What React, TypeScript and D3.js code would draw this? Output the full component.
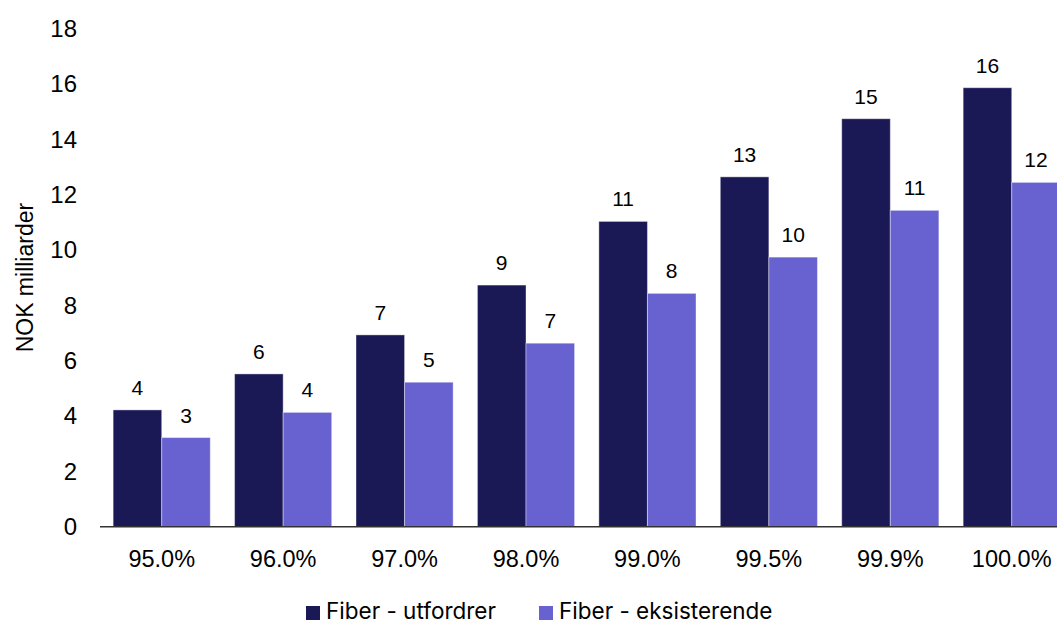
import React from "react";
import * as d3 from "d3";

const categories = ["95.0%", "96.0%", "97.0%", "98.0%", "99.0%", "99.5%", "99.9%", "100.0%"];
const seriesNames = ["Fiber - utfordrer", "Fiber - eksisterende"];
const utfordrer = [4.22, 5.52, 6.93, 8.73, 11.03, 12.64, 14.74, 15.86];
const eksisterende = [3.22, 4.13, 5.22, 6.63, 8.43, 9.74, 11.43, 12.44];
const yTicks = [0, 2, 4, 6, 8, 10, 12, 14, 16, 18];
const colors = ["#1B1856", "#6762D0"];

const W = 1057;
const H = 623;
const FONT = "'Liberation Sans', Arial, sans-serif";
const LEGEND_FONT = "Inter, 'Liberation Sans', Arial, sans-serif";

export default function App() {
  const series = [utfordrer, eksisterende];

  const x0 = d3
    .scaleBand<string>()
    .domain(categories)
    .range([101, 101 + 8 * 121.43])
    .paddingInner(0.2)
    .paddingOuter(0.1);
  const x1 = d3
    .scaleBand<number>()
    .domain([0, 1])
    .range([0, x0.bandwidth()]);
  const y = d3.scaleLinear().domain([0, 18]).range([526.7, 28.5]);
  const fmt = d3.format(".0f");

  return (
    <div style={{ position: "fixed", left: 0, top: 0, width: W, height: H, overflow: "hidden", background: "#fff" }}>
      <svg width={W} height={H} style={{ display: "block" }} fontFamily={FONT}>
        {/* y tick labels */}
        {yTicks.map((t) => (
          <text key={t} x={77} y={y(t)} dy="0.35em" textAnchor="end" fontSize={24} fill="#000">
            {t}
          </text>
        ))}
        <text
          transform={`translate(25,${y(9)}) rotate(-90)`}
          textAnchor="middle"
          dy="0.35em"
          fontSize={23}
          fill="#000"
        >
          NOK milliarder
        </text>

        {/* bars */}
        {categories.map((c, i) => (
          <g key={c} transform={`translate(${x0(c)},0)`}>
            {series.map((s, k) => (
              <rect
                key={k}
                x={x1(k)}
                y={y(s[i])}
                width={x1.bandwidth()}
                height={y(0) - y(s[i])}
                fill={colors[k]}
                stroke="rgba(255,255,255,0.4)"
                strokeWidth={1}
              />
            ))}
            {series.map((s, k) => (
              <text
                key={"l" + k}
                x={(x1(k) as number) + x1.bandwidth() / 2}
                y={y(s[i]) - 15}
                textAnchor="middle"
                fontSize={21}
                fill="#000"
              >
                {fmt(s[i])}
              </text>
            ))}
            <text
              x={x0.bandwidth() / 2}
              y={567}
              textAnchor="middle"
              fontSize={23.5}
              fill="#000"
            >
              {c}
            </text>
          </g>
        ))}

        {/* baseline */}
        <line x1={100} x2={W} y1={y(0)} y2={y(0)} stroke="#333" strokeWidth={1.5} />

        {/* legend */}
        {seriesNames.map((n, k) => {
          const lx = k === 0 ? 306 : 539;
          return (
            <g key={n}>
              <rect x={lx} y={606} width={14} height={14} fill={colors[k]} />
              <text x={lx + 20} y={619} fontSize={22.5} fontFamily={LEGEND_FONT} fill="#000">
                {n}
              </text>
            </g>
          );
        })}
      </svg>
    </div>
  );
}
